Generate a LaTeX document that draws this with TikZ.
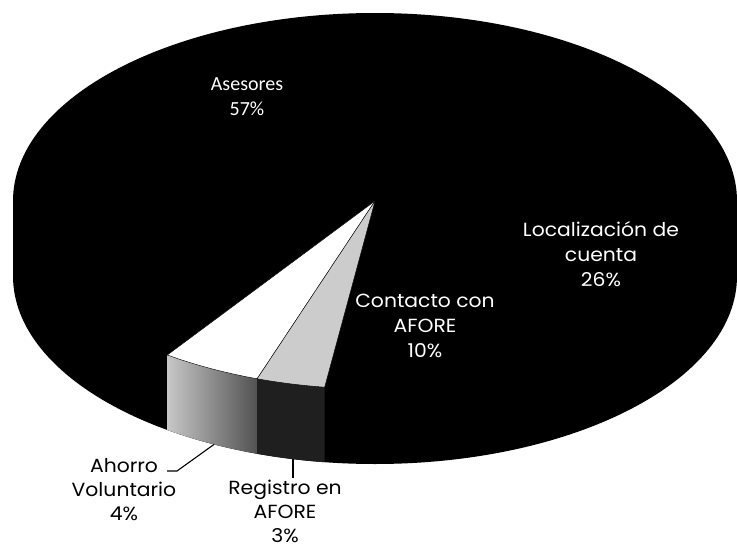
\documentclass[tikz,border=0pt]{standalone}
\usepackage{fontspec}
\setmainfont{Poppins}[FakeStretch=1.07]
\newfontfamily\calfont{Carlito}
\usetikzlibrary{calc}

\begin{document}
\begin{tikzpicture}[x=1pt,y=-1pt,
  rim/.style={x radius=362,y radius=188},
  pie label/.style={text=white,align=center,inner sep=1pt,
    font=\fontsize{19}{25}\selectfont},
  out label/.style={text=black,align=center,inner sep=1pt,
    font=\fontsize{19}{24}\selectfont},
  leader/.style={draw=black,line width=1.1pt}]

  \useasboundingbox (0,0) rectangle (737,549);

  \coordinate (top) at (375,201);
  \coordinate (bot) at (375,276);

  % pie body (Asesores, Localizacion, Contacto)
  \fill[black] (13,201) -- (13,276) arc[start angle=180,end angle=0,rim]
    -- (737,201) arc[start angle=0,end angle=-180,rim] -- cycle;

  % Ahorro voluntario slice
  \shade[left color=black!22,right color=black!68]
    ($(top)+(-235:362 and 188)$) arc[start angle=-235,end angle=-251,rim]
    -- ++(0,75) arc[start angle=-251,end angle=-235,rim] -- cycle;
  \filldraw[fill=white,draw=black,thin] (top) -- ($(top)+(-235:362 and 188)$)
    arc[start angle=-235,end angle=-251,rim] -- cycle;

  % Registro en AFORE slice
  \fill[black!88]
    ($(top)+(-251:362 and 188)$) arc[start angle=-251,end angle=-262,rim]
    -- ++(0,75) arc[start angle=-262,end angle=-251,rim] -- cycle;
  \filldraw[fill=black!20,draw=black,thin] (top) -- ($(top)+(-251:362 and 188)$)
    arc[start angle=-251,end angle=-262,rim] -- cycle;

  \node[text=white,align=center,font=\calfont\fontsize{20}{25}\selectfont]
    (asesores) at (247,97) {Asesores\\57\%};
  \node[pie label] (localizacion) at (601,254) {Localización de\\cuenta\\26\%};
  \node[pie label] (contacto) at (425,326) {Contacto con\\AFORE\\10\%};

  \node[out label] (ahorro) at (124,490) {Ahorro\\Voluntario\\4\%};
  \node[out label] (registro) at (285,511) {Registro en\\AFORE\\3\%};

  \coordinate (ahorro tip) at ($(bot)+(-243.6:362 and 188)$);
  \coordinate (ahorro end) at (167,471);
  \coordinate (registro tip) at ($(bot)+(-256.9:362 and 188)$);

  \draw[leader] (ahorro end) -- ++(10,0) -- (ahorro tip);
  \draw[leader] (registro tip) -- (registro tip |- registro.north);

\end{tikzpicture}
\end{document}
